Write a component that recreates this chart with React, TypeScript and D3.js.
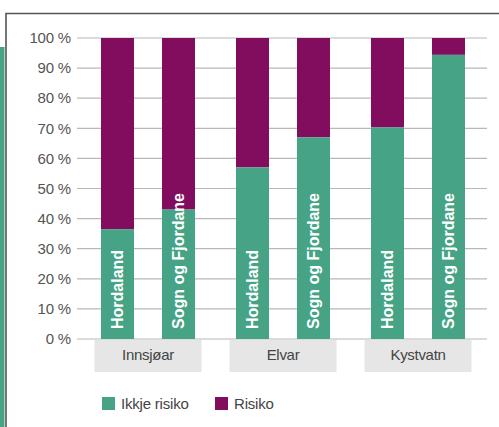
import React from "react";
import * as d3 from "d3";

// chart data
const categories = ["Innsjøar", "Elvar", "Kystvatn"];
const regions = ["Hordaland", "Sogn og Fjordane"];
const ikkjeRisiko = [
  [36.5, 43],
  [57, 67],
  [70.3, 94.4],
];
const yTicks = [0, 10, 20, 30, 40, 50, 60, 70, 80, 90, 100];
const legendLabels = ["Ikkje risiko", "Risiko"];

const GREEN = "#47a385";
const PURPLE = "#820d5f";
const FONT = "'Liberation Sans', Arial, sans-serif";

const App: React.FC = () => {
  const width = 499;
  const height = 427;

  const y = d3.scaleLinear().domain([0, 100]).range([339, 38]);

  // outer scale: one band per category (the grey label box)
  const x0 = d3
    .scaleBand<string>()
    .domain(categories)
    .range([80.5, 485.5])
    .paddingInner(28 / 135)
    .paddingOuter(14 / 135);

  // inner scale: the two bars in each group, relative to the group centre
  const x1 = d3
    .scaleBand<string>()
    .domain(regions)
    .range([-47, 47])
    .paddingInner(28 / 61);

  const center = (c: string) => (x0(c) as number) + x0.bandwidth() / 2;

  return (
    <>
      <style>{"body{margin:0}"}</style>
      <svg
        width={width}
        height={height}
        style={{ display: "block", fontFamily: FONT }}
      >
        <rect width={width} height={height} fill="#fff" />

        {/* frame and side strip */}
        <rect x={0} y={47} width={4.5} height={height - 47} fill={GREEN} />
        <path d={`M6,${height} V13.5 H${width}`} fill="none" stroke="#555" strokeWidth={1.6} />

        {/* gridlines and y labels */}
        {yTicks.map((t) => (
          <g key={t}>
            <line x1={77} x2={487} y1={y(t)} y2={y(t)} stroke="#b8b8b8" strokeWidth={1.2} />
            <text
              x={71}
              y={y(t)}
              dy="0.35em"
              textAnchor="end"
              fontSize={15}
              letterSpacing={-0.2}
              fill="#555"
            >
              {`${t} %`}
            </text>
          </g>
        ))}

        {/* bars */}
        {categories.map((c, ci) =>
          regions.map((r, ri) => {
            const v = ikkjeRisiko[ci][ri];
            const bx = center(c) + (x1(r) as number);
            const bw = x1.bandwidth();
            return (
              <g key={c + r}>
                <rect x={bx} y={y(100)} width={bw} height={y(v) - y(100)} fill={PURPLE} />
                <rect x={bx} y={y(v)} width={bw} height={y(0) - y(v)} fill={GREEN} />
                <text
                  transform={`translate(${bx + bw / 2 + 5},${y(0) - 10}) rotate(-90)`}
                  fontSize={16}
                  fontWeight="bold"
                  fill="#fff"
                >
                  {r}
                </text>
              </g>
            );
          })
        )}

        {/* category label boxes */}
        {categories.map((c) => (
          <g key={c}>
            <rect x={x0(c)} y={340} width={x0.bandwidth()} height={32} fill="#e6e6e6" />
            <text
              x={center(c)}
              y={360}
              textAnchor="middle"
              fontSize={15}
              letterSpacing={-0.3}
              fill="#444"
            >
              {c}
            </text>
          </g>
        ))}

        {/* legend */}
        {legendLabels.map((l, i) => {
          const lx = i === 0 ? 102 : 215;
          return (
            <g key={l}>
              <rect x={lx} y={397} width={13} height={13} fill={i === 0 ? GREEN : PURPLE} />
              <text x={lx + 19} y={409} fontSize={15} letterSpacing={-0.2} fill="#444">
                {l}
              </text>
            </g>
          );
        })}
      </svg>
    </>
  );
};

export default App;
